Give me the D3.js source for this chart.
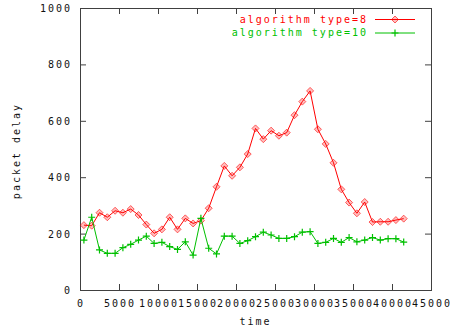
<!DOCTYPE html>
<html>
<head>
<meta charset="utf-8">
<script src="https://cdn.jsdelivr.net/npm/d3@7"></script>
<style>
  body { margin: 0; background: #fff; }
  text { font-family: "DejaVu Sans Mono", monospace; font-size: 10px; letter-spacing: 2px; }
</style>
</head>
<body>
<div id="chart"></div>
<script>
let width = 461, height = 334;
let margin = { left: 80, right: 30, top: 8, bottom: 44 };

// time values (x) shared by both series
let times = [500, 1500, 2500, 3500, 4500, 5500, 6500, 7500, 8500, 9500,
    10500, 11500, 12500, 13500, 14500, 15500, 16500, 17500, 18500, 19500,
    20500, 21500, 22500, 23500, 24500, 25500, 26500, 27500, 28500, 29500,
    30500, 31500, 32500, 33500, 34500, 35500, 36500, 37500, 38500, 39500,
    40500, 41500];

let delay8 = [230, 228, 274, 258, 281, 274, 287, 266, 232, 201,
    215, 258, 215, 254, 236, 246, 290, 366, 440, 405,
    435, 482, 573, 535, 565, 547, 558, 620, 668, 706,
    570, 518, 451, 357, 310, 272, 312, 241, 242, 242,
    248, 253];

let delay10 = [177, 258, 142, 130, 130, 150, 162, 177, 191, 165,
    169, 154, 144, 171, 124, 254, 148, 128, 191, 191,
    165, 175, 189, 205, 195, 183, 183, 189, 205, 207,
    165, 169, 183, 169, 186, 171, 177, 186, 177, 182,
    182, 170];

let xTicks = [0, 5000, 10000, 15000, 20000, 25000, 30000, 35000, 40000, 45000];
let yTicks = [0, 200, 400, 600, 800, 1000];

let seriesNames = ['algorithm type=8', 'algorithm type=10'];
let seriesColors = ['#ff0000', '#00c000'];

let svg = d3.select('#chart')
    .append('svg')
    .attr('width', width)
    .attr('height', height);

let x = d3.scaleLinear()
    .domain([0, 45000])
    .range([margin.left, width - margin.right]);
let y = d3.scaleLinear()
    .domain([0, 1000])
    .range([height - margin.bottom, margin.top]);

let frameColor = '#404040';
let tickLen = 6;

// x axis ticks (bottom and mirrored top)
svg.selectAll('.xtickb')
    .data(xTicks)
    .enter()
    .append('line')
    .attr('x1', d => x(d) + 0.5)
    .attr('x2', d => x(d) + 0.5)
    .attr('y1', y(0))
    .attr('y2', y(0) - tickLen)
    .attr('stroke', frameColor);
svg.selectAll('.xtickt')
    .data(xTicks)
    .enter()
    .append('line')
    .attr('x1', d => x(d) + 0.5)
    .attr('x2', d => x(d) + 0.5)
    .attr('y1', y(1000))
    .attr('y2', y(1000) + tickLen)
    .attr('stroke', frameColor);
svg.selectAll('.xlabel')
    .data(xTicks)
    .enter()
    .append('text')
    .attr('x', d => x(d) + 1)
    .attr('y', 307)
    .attr('text-anchor', 'middle')
    .attr('fill', '#111')
    .text(d => d);

// y axis ticks (left and mirrored right)
svg.selectAll('.ytickl')
    .data(yTicks)
    .enter()
    .append('line')
    .attr('x1', x(0))
    .attr('x2', x(0) + tickLen)
    .attr('y1', d => y(d) + 0.5)
    .attr('y2', d => y(d) + 0.5)
    .attr('stroke', frameColor);
svg.selectAll('.ytickr')
    .data(yTicks)
    .enter()
    .append('line')
    .attr('x1', x(45000))
    .attr('x2', x(45000) - tickLen)
    .attr('y1', d => y(d) + 0.5)
    .attr('y2', d => y(d) + 0.5)
    .attr('stroke', frameColor);
svg.selectAll('.ylabel')
    .data(yTicks)
    .enter()
    .append('text')
    .attr('x', 72)
    .attr('y', d => y(d) + 4)
    .attr('text-anchor', 'end')
    .attr('fill', '#111')
    .text(d => d);

// frame
svg.append('rect')
    .attr('x', x(0) + 0.5)
    .attr('y', y(1000) + 0.5)
    .attr('width', x(45000) - x(0))
    .attr('height', y(0) - y(1000))
    .attr('fill', 'none')
    .attr('stroke', frameColor);

// axis titles
svg.append('text')
    .attr('x', (x(0) + x(45000)) / 2)
    .attr('y', 325)
    .attr('text-anchor', 'middle')
    .attr('fill', '#111')
    .text('time');
svg.append('text')
    .attr('transform', 'translate(20,' + (y(500) + 2) + ') rotate(-90)')
    .attr('text-anchor', 'middle')
    .attr('fill', '#111')
    .text('packet delay');

// markers
function diamond(g, cx, cy, color) {
    g.append('path')
        .attr('d', 'M' + cx + ',' + (cy - 3.5) + 'L' + (cx + 3.5) + ',' + cy +
            'L' + cx + ',' + (cy + 3.5) + 'L' + (cx - 3.5) + ',' + cy + 'Z')
        .attr('fill', color)
        .attr('fill-opacity', 0.25)
        .attr('stroke', color)
        .attr('stroke-opacity', 0.6);
}
function plus(g, cx, cy, color) {
    g.append('path')
        .attr('d', 'M' + (cx - 3.5) + ',' + cy + 'H' + (cx + 3.5) +
            'M' + cx + ',' + (cy - 3.5) + 'V' + (cy + 3.5))
        .attr('stroke', color)
        .attr('stroke-width', 1.2);
}

let line = d3.line()
    .x(d => x(d[0]))
    .y(d => y(d[1]));

let allSeries = [delay8, delay10];
let markerFns = [diamond, plus];

allSeries.forEach((vals, k) => {
    let pts = times.map((t, i) => [t, vals[i]]);
    svg.append('path')
        .datum(pts)
        .attr('d', line)
        .attr('fill', 'none')
        .attr('stroke', seriesColors[k])
        .attr('stroke-width', 1);
    let g = svg.append('g');
    pts.forEach(p => markerFns[k](g, x(p[0]), y(p[1]), seriesColors[k]));
});

// legend
let legendY = [19, 32.5];
seriesNames.forEach((name, k) => {
    svg.append('text')
        .attr('x', 368)
        .attr('y', legendY[k] + 3.5)
        .attr('text-anchor', 'end')
        .attr('fill', seriesColors[k])
        .text(name);
    svg.append('line')
        .attr('x1', 375)
        .attr('x2', 415)
        .attr('y1', legendY[k] + 0.5)
        .attr('y2', legendY[k] + 0.5)
        .attr('stroke', seriesColors[k]);
    let g = svg.append('g');
    markerFns[k](g, 395, legendY[k] + 0.5, seriesColors[k]);
});
</script>
</body>
</html>
